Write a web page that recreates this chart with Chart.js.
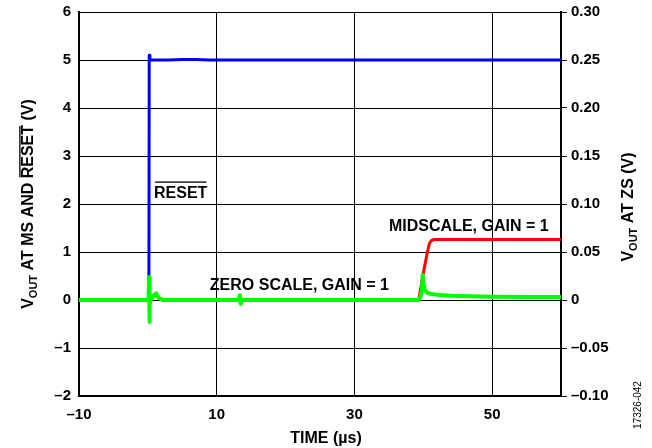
<!DOCTYPE html>
<html><head><meta charset="utf-8">
<script src="https://cdn.jsdelivr.net/npm/chart.js@4/dist/chart.umd.min.js"></script>
<style>html,body{margin:0;padding:0;background:#fff}canvas{display:block}</style>
</head><body>
<canvas id="c" width="652" height="448"></canvas>
<script>
// ---- data ----
const xTicks = [-10, 10, 30, 50];
const leftTicks = [-2, -1, 0, 1, 2, 3, 4, 5, 6];
const rightTicks = [-0.10, -0.05, 0, 0.05, 0.10, 0.15, 0.20, 0.25, 0.30];

// RESET (left axis, V)
const resetTime  = [-10, 0.15, 0.2, 0.3, 0.5, 1, 3, 5, 7, 9, 60];
const resetVolts = [0, 0, 5.1, 5.02, 5.0, 5.0, 5.0, 5.01, 5.01, 5.0, 5.0];

// MIDSCALE, GAIN = 1 (left axis, V)
const midTime  = [-10, 0.2, 0.6, 1.0, 1.4, 2.0, 39.0, 39.4, 39.7, 40.0, 40.3, 40.6, 40.9, 41.2, 41.6, 60];
const midVolts = [0, 0, 0.08, 0.12, 0.06, 0, 0, 0.03, 0.3, 0.55, 0.78, 1.0, 1.18, 1.24, 1.26, 1.26];

// ZERO SCALE, GAIN = 1 (right axis, V)
const zsTime  = [-10, 0.1, 0.18, 0.22, 0.3, 0.4, 0.8, 1.2, 1.6, 2.2, 13.2, 13.35, 13.5, 13.65, 39.3, 39.6, 39.8, 39.9, 40.0, 40.2, 40.5, 41.0, 42.0, 44.0, 47.0, 50.0, 55.0, 60.0];
const zsVolts = [0, 0, 0.024, -0.023, -0.004, 0.0, 0.004, 0.007, 0.002, 0, 0, 0.005, -0.004, 0, 0, 0.003, 0.01, 0.026, 0.018, 0.011, 0.008, 0.0065, 0.0055, 0.0045, 0.004, 0.0035, 0.0032, 0.003];

const pts = (xs, ys) => xs.map((x, i) => ({x, y: ys[i]}));
const FONT = '"Liberation Sans", Arial, Helvetica, sans-serif';
const dash = s => String(s).replace('-', '\u2013');
const near = (v, list) => list.some(t => Math.abs(t - v) < 1e-6);

// annotations (text, data position, alignment)
const notes = [
  {text: 'RESET', x: 0.9, y: 2.22, align: 'left', overline: true, axis: 'y'},
  {text: 'MIDSCALE, GAIN = 1', x: 58.2, y: 1.53, align: 'right', axis: 'y'},
  {text: 'ZERO SCALE, GAIN = 1', x: 9.0, y: 0.30, align: 'left', axis: 'y'}
];

function drawRich(ctx, segs, cx, cy, angle) {
  ctx.save();
  ctx.translate(cx, cy);
  ctx.rotate(angle);
  let total = 0;
  segs.forEach(s => { ctx.font = 'bold ' + s.size + 'px ' + FONT; s.w = ctx.measureText(s.t).width; total += s.w; });
  let x = -total / 2;
  ctx.textBaseline = 'alphabetic';
  ctx.textAlign = 'left';
  ctx.fillStyle = '#000';
  segs.forEach(s => {
    ctx.font = 'bold ' + s.size + 'px ' + FONT;
    ctx.fillText(s.t, x, s.dy || 0);
    if (s.overline) {
      ctx.fillRect(x + 1, -s.size * 0.86, s.w - 2, 1.3);
    }
    x += s.w;
  });
  ctx.restore();
}

const textPlugin = {
  id: 'texts',
  afterDraw(chart) {
    const ctx = chart.ctx;
    const xs = chart.scales.x;
    // left axis title
    drawRich(ctx, [
      {t: 'V', size: 16}, {t: 'OUT', size: 11, dy: 4}, {t: ' AT MS AND ', size: 16},
      {t: 'RESET', size: 16, overline: true}, {t: ' (V)', size: 16}
    ], 33, 204, -Math.PI / 2);
    // right axis title
    drawRich(ctx, [
      {t: 'V', size: 16}, {t: 'OUT', size: 11, dy: 4}, {t: ' AT ZS (V)', size: 16}
    ], 633, 207, -Math.PI / 2);
    // x title
    drawRich(ctx, [{t: 'TIME (\u00b5s)', size: 16}], 326, 443, 0);
    // annotations
    ctx.save();
    ctx.fillStyle = '#000';
    ctx.textBaseline = 'middle';
    notes.forEach(n => {
      ctx.font = 'bold 16px ' + FONT;
      ctx.textAlign = n.align;
      const px = xs.getPixelForValue(n.x);
      const py = chart.scales[n.axis].getPixelForValue(n.y);
      ctx.fillText(n.text, px, py);
      if (n.overline) {
        const w = ctx.measureText(n.text).width;
        ctx.fillRect(px + 1, py - 12, w - 2, 1.3);
      }
    });
    // figure id
    ctx.translate(641, 405);
    ctx.rotate(-Math.PI / 2);
    ctx.font = '10px ' + FONT;
    ctx.textAlign = 'center';
    ctx.textBaseline = 'alphabetic';
    ctx.fillText('17326-042', 0, 0);
    ctx.restore();
  }
};

const tickFont = {family: FONT, size: 15, weight: 'bold'};
const fitV = w => s => { s.width = w; s.paddingTop = 0; s.paddingBottom = 0; };

new Chart(document.getElementById('c'), {
  type: 'line',
  data: {
    datasets: [
      {label: 'ZERO SCALE, GAIN = 1', data: pts(zsTime, zsVolts), yAxisID: 'y2', borderColor: '#00ff00', borderWidth: 4, order: 0},
      {label: 'MIDSCALE, GAIN = 1', data: pts(midTime, midVolts), yAxisID: 'y', borderColor: '#ff0000', borderWidth: 3, order: 1},
      {label: 'RESET', data: pts(resetTime, resetVolts), yAxisID: 'y', borderColor: '#0000ff', borderWidth: 3, order: 2}
    ]
  },
  options: {
    responsive: false,
    animation: false,
    layout: {padding: {top: 12, left: 0, right: 0, bottom: 0}},
    elements: {point: {radius: 0}, line: {tension: 0, borderCapStyle: 'round', borderJoinStyle: 'round'}},
    plugins: {legend: {display: false}, tooltip: {enabled: false}},
    scales: {
      x: {
        type: 'linear', position: 'bottom', min: -10, max: 60,
        afterFit: s => { s.height = 52; s.paddingLeft = 0; s.paddingRight = 0; },
        grid: {display: true, color: '#000', lineWidth: 1, drawOnChartArea: true, drawTicks: false},
        border: {display: true, color: '#000', width: 2},
        ticks: {stepSize: 10, color: '#000', font: tickFont, padding: 10, maxRotation: 0, autoSkip: false,
          callback: v => (near(v, xTicks) ? dash(v) : null)}
      },
      y: {
        type: 'linear', position: 'left', min: -2, max: 6,
        afterFit: fitV(79),
        grid: {display: true, color: '#000', lineWidth: 1, drawOnChartArea: true, drawTicks: false},
        border: {display: true, color: '#000', width: 2},
        ticks: {stepSize: 1, color: '#000', font: tickFont, padding: 8, autoSkip: false,
          callback: v => (near(v, leftTicks) ? dash(v) : null)}
      },
      y2: {
        type: 'linear', position: 'right', min: -0.1, max: 0.3,
        afterFit: fitV(91),
        grid: {display: true, color: '#000', lineWidth: 1, drawOnChartArea: false, drawTicks: true, tickLength: 6},
        border: {display: true, color: '#000', width: 2},
        ticks: {stepSize: 0.05, color: '#000', font: tickFont, padding: 4, autoSkip: false,
          callback: v => (near(v, rightTicks) ? (Math.abs(v) < 1e-9 ? '0' : dash(v.toFixed(2))) : null)}
      }
    }
  },
  plugins: [textPlugin]
});
</script>
</body></html>
